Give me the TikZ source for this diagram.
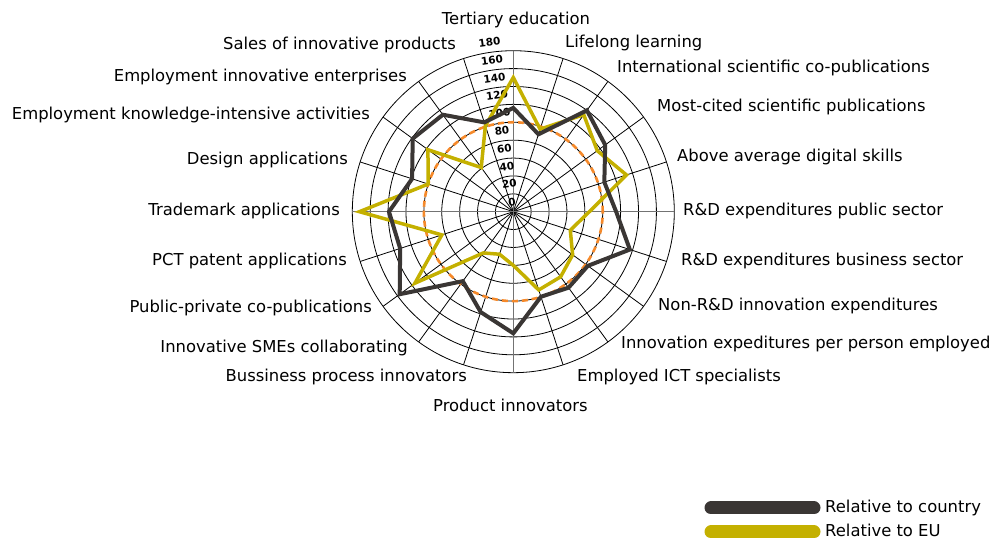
\documentclass[tikz,border=0pt]{standalone}
\usepackage{fontspec}
\setmainfont{DejaVu Sans}
\usetikzlibrary{positioning}
\definecolor{countrygray}{HTML}{3A3634}
\definecolor{euyellow}{HTML}{C4B000}
\definecolor{refline}{HTML}{F5892A}
\newcommand\rs{0.8944}
\begin{document}
\begin{tikzpicture} [
			x=1pt, y=1pt,
			ringline/.style={black, line width=0.8pt},
			mainaxis/.style={black!55, line width=1.6pt},
			country/.style={countrygray, line width=4pt},
			eu/.style={euyellow, line width=3.5pt},
			ref/.style={refline, line width=2.6pt, dash pattern=on 6pt off 4pt},
			catlabel/.style={font=\fontsize{16.4}{18}\selectfont, inner sep=0pt},
			scaletext/.style={font=\fontsize{10.5}{11}\selectfont\bfseries, rotate=8, inner sep=0pt},
			legendbar/.style={line width=13pt, line cap=round}
		]
		\useasboundingbox (0,0) rectangle (992,540);
		
		\begin{scope}[shift={(513.3,328.3)}]
			\coordinate (centre) at (0,0);
			\foreach \r in {20,40,...,180}
				\draw [ringline] (centre) circle [radius=\r*\rs];
			\foreach \k in {0,...,19}
				\draw [ringline] (centre) -- (90-18*\k:180*\rs);
			\draw [mainaxis] (90:180*\rs) -- (-90:180*\rs);
			\draw [mainaxis] (0:180*\rs) -- (180:180*\rs);
			\draw [ref] (centre) circle [radius=100*\rs];
			\foreach \r in {0,20,...,180}
				\node [scaletext] at (98:\r*\rs+10) {\r};
			
			% relative to EU
			\draw [eu] (90:150*\rs) \foreach \v [count=\k from 1] in
				{97,134,116,133,85,67,82,90,92,60,50,57,136,84,172,100,118,61,101}
				{ -- (90-18*\k:\v*\rs) } -- cycle;
			% relative to country
			\draw [country] (90:116*\rs) \foreach \v [count=\k from 1] in
				{91,140,127,107,115,137,103,105,100,136,118,96,157,133,139,119,139,134,105}
				{ -- (90-18*\k:\v*\rs) } -- cycle;
		\end{scope}
		
		\node at (516,520) [catlabel] (tertiary) {Tertiary education};
		\node at (565,497) [catlabel, anchor=west] (lifelong) {Lifelong learning};
		\node at (617,472) [catlabel, anchor=west] (copub) {International scientific co-publications};
		\node at (657,433) [catlabel, anchor=west] (cited) {Most-cited scientific publications};
		\node at (677,383) [catlabel, anchor=west] (digital) {Above average digital skills};
		\node at (683,329) [catlabel, anchor=west] (rdpublic) {R\&D expenditures public sector};
		\node at (681,279) [catlabel, anchor=west] (rdbusiness) {R\&D expenditures business sector};
		\node at (658,234) [catlabel, anchor=west] (nonrd) {Non-R\&D innovation expenditures};
		\node at (621,196) [catlabel, anchor=west] (perperson) {Innovation expeditures per person employed};
		\node at (577,163) [catlabel, anchor=west] (ict) {Employed ICT specialists};
		\node at (433,135) [catlabel, anchor=west] (product) {Product innovators};
		\node at (467,163) [catlabel, anchor=east] (process) {Bussiness process innovators};
		\node at (408,192) [catlabel, anchor=east] (smes) {Innovative SMEs collaborating};
		\node at (372,232) [catlabel, anchor=east] (pubpriv) {Public-private co-publications};
		\node at (347,279) [catlabel, anchor=east] (pct) {PCT patent applications};
		\node at (340,329) [catlabel, anchor=east] (trademark) {Trademark applications};
		\node at (348,380) [catlabel, anchor=east] (design) {Design applications};
		\node at (370,425) [catlabel, anchor=east] (knowledge) {Employment knowledge-intensive activities};
		\node at (407,463) [catlabel, anchor=east] (innoent) {Employment innovative enterprises};
		\node at (456,495) [catlabel, anchor=east] (sales) {Sales of innovative products};
		
		% legend
		\node at (825,32) [catlabel, anchor=west] (countrykey) {Relative to country};
		\node at (825,10) [catlabel, anchor=west] (eukey) {Relative to EU};
		\draw [legendbar, countrygray] (711,32) -- (814,32);
		\draw [legendbar, euyellow] (711,8) -- (814,8);
	\end{tikzpicture}
\end{document}
